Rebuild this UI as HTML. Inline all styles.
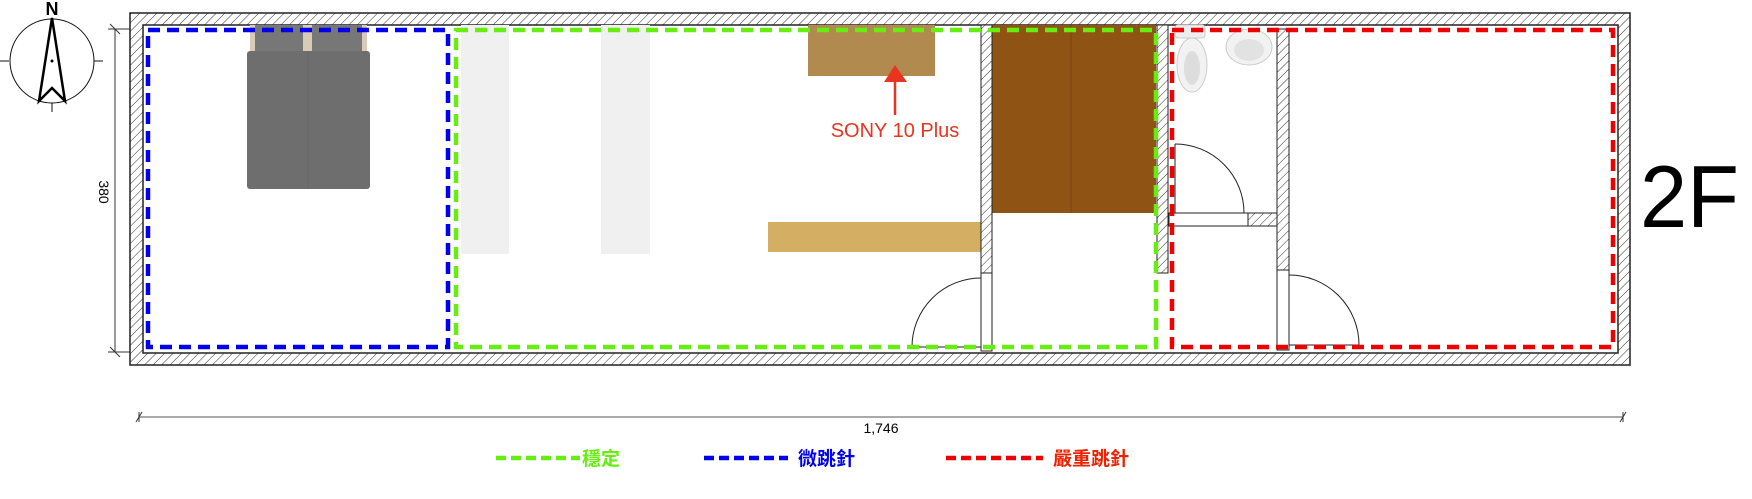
<!DOCTYPE html>
<html><head><meta charset="utf-8"><style>
html,body{margin:0;padding:0;background:#fff;}
svg{display:block;}
text{font-family:"Liberation Sans","Noto Sans CJK TC",sans-serif;}
</style></head><body>
<svg width="1752" height="499" viewBox="0 0 1752 499" xmlns="http://www.w3.org/2000/svg">
<defs>
<pattern id="h" patternUnits="userSpaceOnUse" width="6" height="6" patternTransform="rotate(45)">
<rect width="6" height="6" fill="#fff"/><line x1="0" y1="0" x2="0" y2="6" stroke="#333" stroke-width="1"/>
</pattern>
</defs>
<path d="M130,13 H1630 V365 H130 Z M143,25 V353 H1618 V25 Z" fill="url(#h)" fill-rule="evenodd" stroke="#222" stroke-width="1.5"/>
<circle cx="52" cy="61" r="42" fill="none" stroke="#111" stroke-width="1"/>
<line x1="0" y1="61" x2="9" y2="61" stroke="#111"/>
<line x1="94" y1="61" x2="103" y2="61" stroke="#111"/>
<line x1="52" y1="103" x2="52" y2="112" stroke="#111"/>
<polygon points="52,18 65,101 52,88 39,101" fill="none" stroke="#000" stroke-width="2.5" stroke-linejoin="miter"/>
<circle cx="52" cy="61" r="1.5" fill="#000"/>
<text x="52" y="15" font-size="18" text-anchor="middle" font-weight="bold">N</text>
<line x1="115" y1="29" x2="115" y2="352" stroke="#333"/>
<line x1="108" y1="29" x2="130" y2="29" stroke="#333"/>
<line x1="108" y1="352" x2="130" y2="352" stroke="#333"/>
<line x1="110" y1="24" x2="120" y2="34" stroke="#333"/>
<line x1="110" y1="347" x2="120" y2="357" stroke="#333"/>
<text x="0" y="0" font-size="14" transform="translate(99,192) rotate(90)" text-anchor="middle">380</text>
<line x1="139" y1="417" x2="1623" y2="417" stroke="#555"/>
<line x1="136" y1="422" x2="142" y2="412" stroke="#333"/>
<line x1="1620" y1="422" x2="1626" y2="412" stroke="#333"/>
<line x1="139" y1="412" x2="139" y2="422" stroke="#333"/>
<line x1="1623" y1="412" x2="1623" y2="422" stroke="#333"/>
<text x="881" y="433" font-size="14" text-anchor="middle">1,746</text>
<rect x="250" y="25" width="117" height="30" fill="#d8cbb8"/>
<rect x="255" y="25" width="48" height="28" fill="#777"/>
<rect x="312" y="25" width="50" height="28" fill="#777"/>
<rect x="247" y="51" width="123" height="138" rx="3" fill="#6e6e6e"/>
<line x1="308" y1="51" x2="308" y2="189" stroke="#666"/>
<rect x="461" y="25" width="48" height="229" fill="#f0f0f0"/>
<rect x="601" y="25" width="49" height="229" fill="#f0f0f0"/>
<rect x="808" y="25" width="127" height="51" fill="#b08a4e"/>
<rect x="768" y="222" width="213" height="30" fill="#d4ae62"/>
<rect x="987" y="25" width="169" height="188" fill="#8f5414"/>
<line x1="1071" y1="25" x2="1071" y2="213" stroke="#7a4510"/>
<rect x="1175" y="25" width="30" height="13" rx="3" fill="#eee" stroke="#ccc"/>
<ellipse cx="1192" cy="65" rx="15" ry="27" fill="#f2f2f2" stroke="#ccc"/>
<ellipse cx="1192" cy="68" rx="8" ry="17" fill="#ddd"/>
<ellipse cx="1249" cy="47" rx="23" ry="18" fill="#f2f2f2" stroke="#ccc"/>
<ellipse cx="1249" cy="50" rx="15" ry="11" fill="#e2e2e2"/>
<rect x="981" y="25" width="11" height="248" fill="url(#h)" stroke="#222"/>
<rect x="981" y="273" width="11" height="78" fill="#fff" stroke="#222"/>
<path d="M981,278 A69,69 0 0 0 912,347" fill="none" stroke="#222"/>
<line x1="912" y1="347" x2="981" y2="347" stroke="#222"/>
<rect x="1157" y="25" width="11" height="248" fill="url(#h)" stroke="#222"/>
<rect x="1277" y="29" width="12" height="241" fill="url(#h)" stroke="#222"/>
<rect x="1248" y="213" width="29" height="13" fill="url(#h)" stroke="#222"/>
<rect x="1169" y="213" width="79" height="13" fill="#fff" stroke="#222"/>
<path d="M1175,144 A69,69 0 0 1 1244,213" fill="none" stroke="#222"/>
<line x1="1175" y1="144" x2="1175" y2="213" stroke="#222"/>
<rect x="1277" y="270" width="12" height="80" fill="#fff" stroke="#222"/>
<path d="M1289,275 A70,70 0 0 1 1359,345" fill="none" stroke="#222"/>
<line x1="1289" y1="345" x2="1359" y2="345" stroke="#222"/>
<rect x="148" y="30" width="300" height="317" fill="none" stroke="#0000ee" stroke-width="4.5" stroke-dasharray="12,7"/>
<rect x="456" y="30" width="700" height="317" fill="none" stroke="#66ee11" stroke-width="4.5" stroke-dasharray="12,7"/>
<rect x="1172" y="30" width="441" height="317" fill="none" stroke="#ee0000" stroke-width="4.5" stroke-dasharray="12,7"/>
<line x1="895" y1="115" x2="895" y2="78" stroke="#e8351f" stroke-width="2.5"/>
<polygon points="895,65 907,82 884,82" fill="#e8351f"/>
<text x="895" y="137" font-size="20" fill="#e8351f" text-anchor="middle">SONY 10 Plus</text>
<text x="1640" y="227" font-size="88" fill="#000" textLength="99" lengthAdjust="spacingAndGlyphs">2F</text>
<line x1="496" y1="458" x2="580" y2="458" stroke="#66ee11" stroke-width="4.5" stroke-dasharray="10,5"/>
<text x="582" y="465" font-size="19" font-weight="bold" fill="#66ee11">穩定</text>
<line x1="704" y1="458" x2="788" y2="458" stroke="#0000ee" stroke-width="4.5" stroke-dasharray="10,5"/>
<text x="798" y="465" font-size="19" font-weight="bold" fill="#0000ee">微跳針</text>
<line x1="946" y1="458" x2="1043" y2="458" stroke="#ee0000" stroke-width="4.5" stroke-dasharray="10,5"/>
<text x="1053" y="465" font-size="19" font-weight="bold" fill="#ee2200">嚴重跳針</text>
</svg>
</body></html>
